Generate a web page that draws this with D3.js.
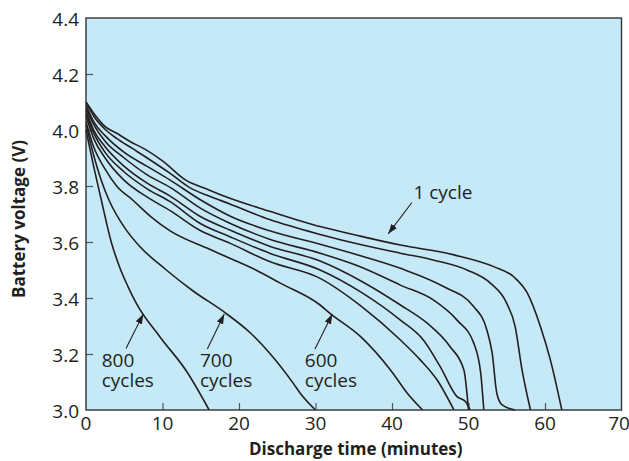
<!DOCTYPE html>
<html>
<head>
<meta charset="utf-8">
<script src="https://cdn.jsdelivr.net/npm/d3@7"></script>
<style>
  body { margin: 0; background: #fff; }
  text { font-family: "Open Sans", sans-serif; fill: #231f20; }
</style>
</head>
<body>
<div id="chart"></div>
<script>
"use strict";

// axis ticks
var xTicks = [0, 10, 20, 30, 40, 50, 60, 70];
var yTicks = [3.0, 3.2, 3.4, 3.6, 3.8, 4.0, 4.2, 4.4];

// discharge curves, [minutes, volts]
var cycles1 = [[0,4.10],[1,4.06],[2.6,4.01],[3.9,3.99],[5.7,3.96],[7.8,3.93],[10,3.89],[13.1,3.82],[15.7,3.79],[18.8,3.756],[24,3.71],[30.6,3.655],[36,3.62],[41.1,3.589],[48.1,3.554],[53.3,3.512],[55.9,3.476],[57.7,3.417],[59.4,3.298],[60.7,3.179],[62.2,3.0]];
var curveB = [[0,4.10],[1,4.05],[2.6,4.0],[4,3.97],[6,3.935],[8,3.9],[11,3.845],[13.5,3.795],[16,3.765],[18.8,3.736],[24,3.68],[30.6,3.627],[36,3.59],[41.1,3.56],[45.5,3.535],[49.8,3.5],[52.9,3.452],[55.0,3.381],[56.1,3.298],[57.0,3.143],[58.1,3.0]];
var curveC = [[0,4.09],[1,4.03],[2.5,3.98],[5,3.92],[8,3.87],[11,3.821],[15,3.75],[18.8,3.693],[24,3.64],[30.6,3.592],[36,3.55],[41.1,3.506],[46.8,3.44],[50.7,3.369],[52.4,3.286],[53.1,3.202],[53.7,3.06],[54.4,3.018],[56.1,3.0]];
var curveD = [[0,4.08],[1,4.02],[2.5,3.96],[5,3.9],[8,3.84],[11,3.795],[15,3.72],[18.8,3.667],[24,3.61],[30.6,3.56],[36,3.51],[41.1,3.446],[45.4,3.393],[48.5,3.321],[50.7,3.238],[51.6,3.131],[52.0,3.0]];
var curveE = [[0,4.07],[1,4.0],[2.5,3.94],[5,3.87],[8,3.81],[11,3.764],[15,3.69],[18.8,3.643],[24,3.585],[30.6,3.532],[36,3.46],[41.1,3.375],[44.6,3.31],[47.6,3.226],[49.4,3.143],[50.0,3.0]];
var curveF = [[0,4.06],[1,3.99],[2.5,3.92],[5,3.85],[8,3.79],[11,3.744],[15,3.665],[18.8,3.619],[24,3.56],[30.6,3.5],[36,3.42],[41.1,3.321],[44.1,3.25],[46.3,3.155],[48.5,3.048],[49.6,3.03],[50.2,3.0]];
var curveG = [[0,4.05],[1,3.97],[2.5,3.9],[5,3.82],[8,3.76],[11,3.712],[15,3.64],[18.8,3.596],[24,3.53],[30.6,3.47],[36,3.37],[41.1,3.25],[43.7,3.179],[45.9,3.107],[48.1,3.0]];
var cycles600 = [[0,4.03],[1,3.94],[2.5,3.86],[4,3.8],[6.1,3.75],[8.5,3.69],[11,3.64],[16.1,3.575],[18.8,3.542],[22.2,3.5],[25.4,3.453],[30.6,3.375],[31.9,3.345],[35.9,3.262],[39.8,3.143],[42,3.06],[44,3.0]];
var cycles700 = [[0,4.02],[1,3.91],[2,3.82],[3,3.75],[5.2,3.645],[7,3.585],[10.5,3.5],[14,3.425],[18,3.351],[21.5,3.275],[24.1,3.2],[27.1,3.095],[28,3.06],[30,3.0]];
var cycles800 = [[0,4.0],[1,3.87],[2,3.75],[3.3,3.6],[4.4,3.51],[5.5,3.44],[6.6,3.38],[9.7,3.26],[13.1,3.14],[16.1,3.0]];

var curves = [cycles1, curveB, curveC, curveD, curveE, curveF, curveG, cycles600, cycles700, cycles800];

// callout labels
var labelLines = [["1 cycle"], ["800", "cycles"], ["700", "cycles"], ["600", "cycles"]];

var width = 629, height = 461;
var plotLeft = 86, plotRight = 621.5, plotTop = 18, plotBottom = 410;
var ink = "#231f20";

var x = d3.scaleLinear().domain([0, 70]).range([plotLeft, plotRight]);
var y = d3.scaleLinear().domain([3.0, 4.4]).range([plotBottom, plotTop]);

var svg = d3.select("#chart").append("svg")
    .attr("width", width)
    .attr("height", height);

svg.append("defs").append("marker")
    .attr("id", "head")
    .attr("viewBox", "0 0 10 10")
    .attr("refX", 10).attr("refY", 5)
    .attr("markerUnits", "userSpaceOnUse")
    .attr("markerWidth", 10).attr("markerHeight", 10)
    .attr("orient", "auto")
  .append("path")
    .attr("d", "M0,1.6 L10,5 L0,8.4 Z")
    .style("fill", ink);

svg.append("rect")
    .attr("x", plotLeft).attr("y", plotTop)
    .attr("width", plotRight - plotLeft).attr("height", plotBottom - plotTop)
    .style("fill", "#c6e9f8");

// inward ticks
svg.append("g")
    .attr("transform", "translate(0," + plotBottom + ")")
    .call(d3.axisBottom(x).tickValues(xTicks.slice(1, -1)).tickSizeInner(-7).tickSizeOuter(0).tickFormat(""))
    .call(function(g) { g.select(".domain").remove(); })
    .call(function(g) { g.selectAll("line").style("stroke", "#555").style("stroke-width", 1.2); });

svg.append("g")
    .attr("transform", "translate(" + plotLeft + ",0)")
    .call(d3.axisLeft(y).tickValues(yTicks.slice(1, -1)).tickSizeInner(-7).tickSizeOuter(0).tickFormat(""))
    .call(function(g) { g.select(".domain").remove(); })
    .call(function(g) { g.selectAll("line").style("stroke", "#555").style("stroke-width", 1.2); });

// tick labels
svg.selectAll("text.xlab").data(xTicks).enter().append("text")
    .attr("class", "xlab")
    .attr("x", function(d) { return Math.min(x(d), width - 10); })
    .attr("y", 430)
    .attr("text-anchor", "middle")
    .style("font-size", "19px")
    .text(function(d) { return d; });

svg.selectAll("text.ylab").data(yTicks).enter().append("text")
    .attr("class", "ylab")
    .attr("x", plotLeft - 7)
    .attr("y", function(d) { return y(d) + 8; })
    .attr("text-anchor", "end")
    .style("font-size", "19px")
    .text(function(d) { return d3.format(".1f")(d); });

// axis titles
svg.append("text")
    .attr("x", (plotLeft + plotRight) / 2 + 2)
    .attr("y", 455)
    .attr("text-anchor", "middle")
    .style("font-size", "17px")
    .style("font-weight", "bold")
    .text("Discharge time (minutes)");

svg.append("text")
    .attr("transform", "translate(25," + 219 + ") rotate(-90)")
    .attr("text-anchor", "middle")
    .style("font-size", "17px")
    .style("font-weight", "bold")
    .text("Battery voltage (V)");

// curves
var line = d3.line()
    .x(function(d) { return x(d[0]); })
    .y(function(d) { return y(d[1]); })
    .curve(d3.curveMonotoneX);

svg.append("g").selectAll("path").data(curves).enter().append("path")
    .attr("d", line)
    .style("fill", "none")
    .style("stroke", ink)
    .style("stroke-width", 1.6)
    .style("stroke-linejoin", "round");

// callouts: text baseline and arrow, in data units
var callouts = [
    { lines: labelLines[0], tx: 42.8, ty: 3.754, from: [42.6, 3.741], to: [39.5, 3.629] },
    { lines: labelLines[1], tx: 2.05, ty: 3.154, from: [5.23, 3.22], to: [7.49, 3.343] },
    { lines: labelLines[2], tx: 14.9, ty: 3.154, from: [15.86, 3.218], to: [18.08, 3.343] },
    { lines: labelLines[3], tx: 28.6, ty: 3.154, from: [29.93, 3.218], to: [32.2, 3.343] }
];

callouts.forEach(function(c) {
    svg.append("line")
        .attr("x1", x(c.from[0])).attr("y1", y(c.from[1]))
        .attr("x2", x(c.to[0])).attr("y2", y(c.to[1]))
        .style("stroke", ink)
        .style("stroke-width", 1.1)
        .attr("marker-end", "url(#head)");

    c.lines.forEach(function(s, i) {
        svg.append("text")
            .attr("x", x(c.tx))
            .attr("y", y(c.ty) + i * 20)
            .style("font-size", "19px")
            .text(s);
    });
});

// frame
svg.append("rect")
    .attr("x", plotLeft).attr("y", plotTop)
    .attr("width", plotRight - plotLeft).attr("height", plotBottom - plotTop)
    .style("fill", "none")
    .style("stroke", "#333")
    .style("stroke-width", 1.4);
</script>
</body>
</html>
